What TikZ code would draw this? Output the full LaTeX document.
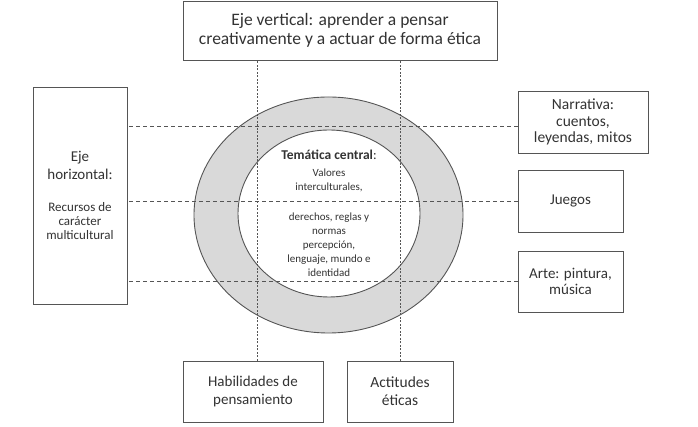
\documentclass[tikz,border=0pt]{standalone}
\usepackage{fontspec}
\setmainfont{Carlito}
\usepackage{xcolor}
\definecolor{txtgray}{HTML}{333333}
\definecolor{linegray}{HTML}{555555}
\definecolor{ringgray}{HTML}{D9D9D9}

\begin{document}
\begin{tikzpicture}[x=1pt,y=1pt,
  box/.style={draw=linegray,line width=0.9pt,fill=white,align=center,text=txtgray,inner sep=2pt},
  vline/.style={draw=linegray,line width=0.9pt,dash pattern=on 2pt off 1.5pt},
  hline/.style={draw=linegray,line width=0.9pt,dash pattern=on 4pt off 3pt}]
\useasboundingbox (0.000000,0.000000) rectangle (698.000000,427.000000);
% Drawing ring
\filldraw[draw=linegray,line width=0.9pt,fill=ringgray] (328.500000,212.000000) ellipse [x radius=134.5, y radius=118];
\filldraw[draw=linegray,line width=0.9pt,fill=white] (329.000000,213.500000) ellipse [x radius=91, y radius=83.5];
\node[text=txtgray,align=center,font=\fontsize{11}{14}\selectfont] (tema) at (329.000000,213.500000)
  {{\fontsize{13.5}{14}\selectfont\textbf{Temática central}:}\\[3pt]Valores\\interculturales,\\[16pt]derechos, reglas y\\normas\\percepción,\\lenguaje, mundo e\\identidad};
% Drawing boxes
\node[box,minimum width=314pt,minimum height=59pt,font=\fontsize{17.5}{19}\selectfont] (top) at (340.000000,396.500000)
  {Eje vertical: aprender a pensar\\creativamente y a actuar de forma ética};
\node[box,minimum width=94pt,minimum height=217pt,font=\fontsize{13}{14}\selectfont] (left) at (80.000000,231.500000)
  {\fontsize{15}{14}\selectfont Eje\\[4pt]\fontsize{15}{14}\selectfont horizontal:\\[18pt]Recursos de\\carácter\\multicultural};
\node[box,minimum width=130pt,minimum height=62pt,font=\fontsize{15.5}{16.5}\selectfont] (narr) at (583.000000,305.000000)
  {Narrativa:\\cuentos,\\leyendas, mitos};
\node[box,minimum width=105pt,minimum height=62pt,font=\fontsize{15}{16}\selectfont] (juegos) at (570.500000,226.000000)
  {Juegos};
\node[box,minimum width=105pt,minimum height=61pt,font=\fontsize{15}{16}\selectfont] (arte) at (570.500000,145.500000)
  {Arte: pintura,\\música};
\node[box,minimum width=140pt,minimum height=61pt,font=\fontsize{15}{18}\selectfont] (hab) at (253.000000,35.500000)
  {Habilidades de\\pensamiento};
\node[box,minimum width=106pt,minimum height=61pt,font=\fontsize{15.5}{18}\selectfont] (act) at (400.000000,35.500000)
  {Actitudes\\éticas};
% Drawing dashed lines
\draw[vline] ([xshift=4pt]hab.north) -- ([xshift=4pt]hab.north |- top.south);
\draw[vline] (act.north) -- (act.north |- top.south);
\draw[hline] ([yshift=-4pt]narr.west) -- ([yshift=-4pt]narr.west -| left.east);
\draw[hline] (juegos.west) -- (juegos.west -| left.east);
\draw[hline] (arte.west) -- (arte.west -| left.east);
\end{tikzpicture}
\end{document}
